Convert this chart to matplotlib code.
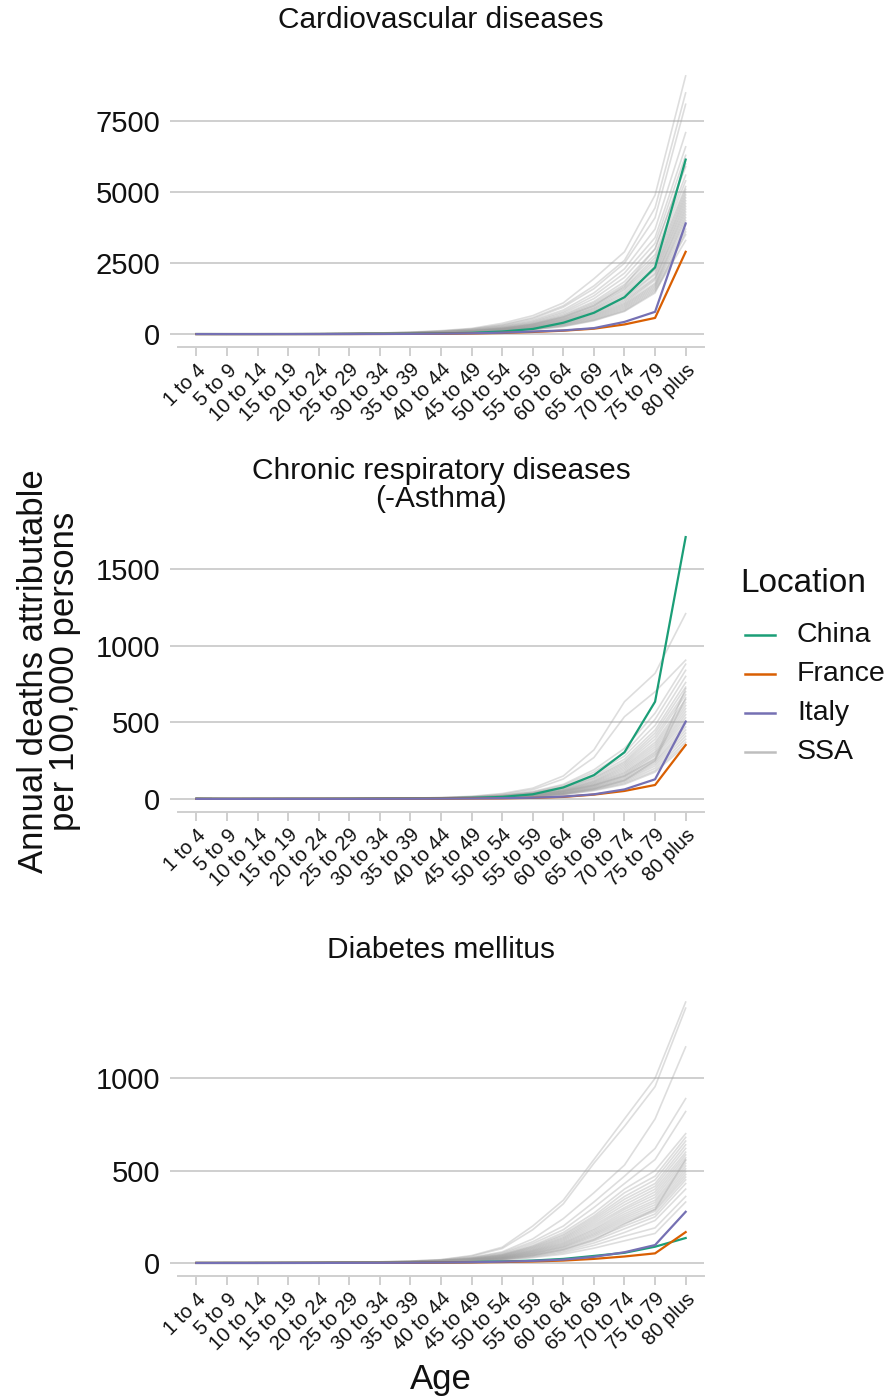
import matplotlib
matplotlib.use("Agg")
import matplotlib.pyplot as plt
from matplotlib.lines import Line2D
import numpy as np

plt.rcParams['font.family'] = ['Liberation Sans', 'DejaVu Sans']

ages = ["1 to 4", "5 to 9", "10 to 14", "15 to 19", "20 to 24", "25 to 29", "30 to 34",
        "35 to 39", "40 to 44", "45 to 49", "50 to 54", "55 to 59", "60 to 64",
        "65 to 69", "70 to 74", "75 to 79", "80 plus"]

titles = ["Cardiovascular diseases", "Chronic respiratory diseases\n(-Asthma)", "Diabetes mellitus"]
yticks_list = [[0, 2500, 5000, 7500], [0, 500, 1000, 1500], [0, 500, 1000]]

# ---- Cardiovascular diseases ----
cvd_china = [2, 1, 1, 2, 3, 5, 9, 15, 25, 45, 90, 180, 400, 750, 1300, 2350, 6150]
cvd_france = [0.5, 0.3, 0.4, 1, 1.5, 2.5, 4, 7, 12, 22, 40, 75, 120, 190, 340, 570, 2900]
cvd_italy = [0.5, 0.3, 0.5, 1, 2, 3, 5, 9, 16, 28, 50, 90, 130, 210, 430, 785, 3900]
cvd_ssa = [
    [6, 3, 5, 9, 15, 24, 40, 70, 120, 200, 380, 650, 1100, 1950, 2900, 4900, 9100],
    [5, 3, 4, 8, 13, 22, 36, 62, 105, 180, 330, 580, 1000, 1700, 2600, 4450, 8500],
    [5, 3, 4, 8, 12, 20, 34, 58, 100, 170, 310, 540, 950, 1600, 2500, 4100, 8100],
    [4, 2, 4, 7, 11, 19, 31, 52, 90, 150, 280, 490, 850, 1450, 2300, 3700, 7100],
    [4, 2, 3, 7, 10, 17, 28, 48, 82, 140, 260, 450, 790, 1350, 2150, 3400, 6600],
    [4, 2, 3, 6, 10, 16, 27, 45, 78, 130, 240, 420, 740, 1250, 2000, 3200, 6300],
    [3, 2, 3, 6, 9, 15, 25, 42, 72, 120, 225, 390, 690, 1150, 1850, 3000, 5900],
    [3, 2, 3, 6, 9, 14, 24, 40, 68, 115, 210, 370, 650, 1100, 1750, 2800, 5600],
    [3, 2, 3, 5, 8, 14, 23, 38, 65, 110, 200, 350, 620, 1050, 1650, 2700, 5400],
    [3, 2, 3, 5, 8, 13, 22, 36, 62, 105, 190, 335, 590, 1000, 1600, 2600, 5200],
    [3, 2, 3, 5, 8, 13, 21, 35, 60, 100, 185, 320, 560, 950, 1550, 2500, 5100],
    [3, 2, 3, 5, 7, 12, 20, 34, 58, 96, 175, 305, 540, 910, 1480, 2400, 5000],
    [3, 2, 2, 5, 7, 12, 19, 32, 55, 92, 168, 295, 520, 880, 1420, 2300, 4900],
    [3, 2, 2, 5, 7, 11, 18, 31, 52, 88, 160, 280, 500, 840, 1360, 2250, 4800],
    [3, 1, 2, 4, 7, 11, 18, 30, 50, 85, 155, 270, 480, 810, 1300, 2150, 4700],
    [2, 1, 2, 4, 6, 10, 17, 28, 48, 82, 148, 260, 460, 780, 1250, 2100, 4600],
    [2, 1, 2, 4, 6, 10, 16, 27, 46, 78, 142, 250, 440, 750, 1200, 2000, 4500],
    [2, 1, 2, 4, 6, 10, 16, 26, 44, 75, 136, 240, 420, 720, 1150, 1950, 4400],
    [2, 1, 2, 4, 6, 9, 15, 25, 42, 72, 130, 230, 400, 690, 1100, 1900, 4300],
    [2, 1, 2, 4, 5, 9, 14, 24, 40, 68, 124, 220, 385, 660, 1060, 1800, 4200],
    [2, 1, 2, 3, 5, 8, 14, 23, 38, 65, 118, 210, 370, 630, 1020, 1750, 4100],
    [2, 1, 2, 3, 5, 8, 13, 22, 36, 62, 112, 200, 350, 600, 980, 1700, 4000],
    [2, 1, 2, 3, 5, 8, 13, 21, 35, 60, 108, 190, 335, 570, 940, 1650, 3850],
    [2, 1, 1, 3, 5, 7, 12, 20, 33, 57, 102, 180, 320, 540, 900, 1600, 3700],
    [2, 1, 1, 3, 4, 7, 11, 19, 31, 54, 96, 170, 300, 510, 860, 1550, 3500],
    [2, 1, 1, 3, 4, 7, 11, 18, 30, 50, 90, 160, 280, 490, 820, 1500, 3300],
    [2, 1, 1, 3, 4, 6, 10, 17, 28, 47, 85, 150, 265, 470, 800, 1450, 3600],
    [3, 2, 3, 5, 8, 13, 22, 36, 62, 105, 190, 340, 600, 1000, 1700, 3000, 6000],
]

# ---- Chronic respiratory diseases ----
crd_china = [1, 0.5, 0.5, 0.5, 0.5, 1, 1.5, 2.5, 4, 7, 13, 30, 75, 155, 305, 635, 1710]
crd_france = [0.3, 0.2, 0.2, 0.3, 0.4, 0.5, 0.8, 1.2, 2, 3, 4, 7, 13, 28, 52, 91, 352]
crd_italy = [0.3, 0.2, 0.2, 0.3, 0.4, 0.5, 0.8, 1.2, 2, 3, 5, 8, 15, 30, 62, 128, 505]
crd_ssa = [
    [2, 1, 1, 1, 2, 2, 3, 5, 9, 17, 35, 70, 150, 320, 635, 820, 1210],
    [2, 1, 1, 1, 1, 2, 3, 5, 8, 15, 30, 60, 130, 270, 537, 700, 906],
    [1, 1, 1, 1, 1, 2, 3, 4, 7, 13, 25, 48, 95, 190, 330, 560, 880],
    [1, 1, 1, 1, 1, 2, 3, 4, 7, 12, 23, 44, 88, 175, 300, 520, 840],
    [1, 1, 1, 1, 1, 2, 2, 4, 6, 11, 21, 40, 80, 160, 280, 480, 800],
    [1, 1, 1, 1, 1, 1, 2, 3, 6, 10, 20, 38, 75, 150, 260, 450, 760],
    [1, 1, 1, 1, 1, 1, 2, 3, 6, 10, 19, 36, 72, 140, 245, 430, 730],
    [1, 1, 1, 1, 1, 1, 2, 3, 5, 9, 18, 34, 68, 135, 235, 410, 700],
    [1, 1, 1, 1, 1, 1, 2, 3, 5, 9, 17, 32, 64, 128, 225, 390, 680],
    [1, 1, 1, 1, 1, 1, 2, 3, 5, 9, 16, 30, 60, 120, 215, 370, 650],
    [1, 1, 1, 1, 1, 1, 2, 3, 5, 8, 15, 29, 57, 115, 205, 355, 630],
    [1, 1, 1, 1, 1, 1, 2, 3, 5, 8, 15, 28, 55, 110, 195, 340, 610],
    [1, 1, 1, 1, 1, 1, 2, 3, 4, 8, 14, 27, 52, 105, 185, 325, 590],
    [1, 1, 1, 1, 1, 1, 2, 3, 4, 7, 13, 25, 50, 100, 175, 310, 570],
    [1, 0, 1, 1, 1, 1, 2, 3, 4, 7, 13, 24, 48, 95, 168, 300, 550],
    [1, 0, 1, 1, 1, 1, 2, 2, 4, 7, 12, 23, 45, 90, 160, 290, 530],
    [1, 0, 1, 1, 1, 1, 1, 2, 4, 6, 12, 22, 43, 86, 152, 280, 510],
    [1, 0, 1, 1, 1, 1, 1, 2, 4, 6, 11, 21, 41, 82, 145, 265, 490],
    [1, 0, 1, 1, 1, 1, 1, 2, 3, 6, 11, 20, 39, 78, 138, 250, 470],
    [1, 0, 1, 1, 1, 1, 1, 2, 3, 6, 10, 19, 37, 74, 130, 240, 450],
    [1, 0, 0, 1, 1, 1, 1, 2, 3, 5, 10, 18, 35, 70, 124, 228, 430],
    [1, 0, 0, 1, 1, 1, 1, 2, 3, 5, 9, 17, 33, 66, 118, 215, 410],
    [1, 0, 0, 1, 1, 1, 1, 2, 3, 5, 9, 16, 31, 62, 110, 200, 390],
    [1, 0, 0, 0, 1, 1, 1, 2, 3, 5, 8, 15, 29, 58, 102, 185, 370],
    [1, 0, 0, 0, 1, 1, 1, 2, 3, 4, 8, 14, 27, 54, 95, 175, 350],
    [1, 0, 0, 1, 1, 1, 1, 2, 3, 5, 9, 17, 33, 65, 120, 250, 660],
    [1, 0, 0, 1, 1, 1, 2, 3, 4, 7, 14, 27, 50, 90, 150, 260, 720],
]

# ---- Diabetes mellitus ----
dm_china = [0.1, 0.1, 0.1, 0.2, 0.3, 0.5, 0.8, 1.5, 3, 5, 8, 13, 22, 38, 55, 88, 135]
dm_france = [0.1, 0.1, 0.1, 0.2, 0.3, 0.4, 0.6, 1, 2, 3, 5, 8, 13, 22, 35, 52, 167]
dm_italy = [0.1, 0.1, 0.1, 0.2, 0.3, 0.5, 0.8, 1.5, 2.5, 4, 7, 11, 18, 33, 58, 97, 277]
dm_ssa = [
    [1, 1, 1, 2, 3, 4, 6, 10, 18, 40, 85, 200, 340, 560, 780, 1000, 1413],
    [1, 1, 1, 2, 3, 4, 6, 10, 17, 36, 78, 180, 320, 540, 740, 955, 1380],
    [1, 1, 1, 1, 2, 3, 5, 8, 15, 30, 60, 130, 240, 380, 530, 780, 1170],
    [1, 1, 1, 1, 2, 3, 5, 8, 14, 28, 55, 115, 200, 330, 470, 620, 890],
    [1, 1, 1, 1, 2, 3, 5, 7, 13, 26, 50, 105, 180, 300, 430, 560, 820],
    [1, 1, 1, 1, 2, 3, 4, 7, 12, 24, 46, 95, 165, 270, 400, 500, 700],
    [1, 1, 1, 1, 2, 3, 4, 7, 12, 23, 44, 90, 155, 255, 380, 470, 680],
    [1, 1, 1, 1, 2, 2, 4, 6, 11, 22, 42, 86, 148, 245, 360, 450, 660],
    [0, 1, 1, 1, 2, 2, 4, 6, 11, 21, 40, 82, 140, 235, 345, 430, 640],
    [0, 1, 1, 1, 1, 2, 4, 6, 10, 20, 38, 78, 134, 225, 330, 415, 620],
    [0, 1, 1, 1, 1, 2, 3, 6, 10, 19, 36, 74, 128, 215, 315, 400, 600],
    [0, 1, 1, 1, 1, 2, 3, 5, 9, 18, 35, 70, 122, 205, 300, 385, 585],
    [0, 1, 1, 1, 1, 2, 3, 5, 9, 17, 33, 67, 116, 195, 290, 370, 570],
    [0, 0, 1, 1, 1, 2, 3, 5, 9, 16, 31, 64, 110, 185, 278, 355, 555],
    [0, 0, 1, 1, 1, 2, 3, 5, 8, 16, 30, 61, 105, 178, 266, 340, 540],
    [0, 0, 1, 1, 1, 2, 3, 5, 8, 15, 29, 58, 100, 170, 255, 328, 525],
    [0, 0, 1, 1, 1, 2, 3, 4, 8, 14, 27, 55, 95, 162, 245, 315, 510],
    [0, 0, 1, 1, 1, 2, 3, 4, 7, 14, 26, 52, 90, 155, 235, 302, 495],
    [0, 0, 1, 1, 1, 1, 2, 4, 7, 13, 25, 50, 86, 148, 225, 290, 480],
    [0, 0, 0, 1, 1, 1, 2, 4, 7, 12, 24, 47, 82, 140, 215, 280, 465],
    [0, 0, 0, 1, 1, 1, 2, 4, 6, 12, 22, 44, 76, 130, 200, 265, 450],
    [0, 0, 0, 1, 1, 1, 2, 3, 6, 11, 21, 41, 70, 120, 185, 250, 430],
    [0, 0, 0, 1, 1, 1, 2, 3, 5, 10, 19, 37, 63, 108, 165, 230, 400],
    [0, 0, 0, 0, 1, 1, 2, 3, 5, 9, 17, 33, 56, 95, 145, 190, 360],
    [0, 0, 0, 0, 1, 1, 1, 3, 4, 8, 15, 29, 48, 80, 120, 160, 330],
    [0, 0, 0, 1, 1, 1, 2, 4, 6, 11, 20, 40, 72, 125, 210, 290, 560],
]

locations = ["China", "France", "Italy", "SSA"]
loc_colors = {"China": "#1B9E77", "France": "#D95F02", "Italy": "#7570B3", "SSA": "#BEBEBE"}

panels = [
    (cvd_ssa, cvd_china, cvd_france, cvd_italy),
    (crd_ssa, crd_china, crd_france, crd_italy),
    (dm_ssa, dm_china, dm_france, dm_italy),
]

W, H = 891, 1399
fig = plt.figure(figsize=(W / 100, H / 100), dpi=100)

panel_px = [(63, 347), (524, 812), (989, 1276)]
left_px, right_px = 178, 704
title_y_px = [20, 485, 950]
grid_col = "#CFCFCF"
txt_col = "#111111"
x = np.arange(len(ages))

for i, (ssa, china, france, italy) in enumerate(panels):
    top, bot = panel_px[i]
    ax = fig.add_axes([left_px / W, 1 - bot / H, (right_px - left_px) / W, (bot - top) / H])
    for row in ssa:
        ax.plot(x, row, color="#A0A0A0", alpha=0.35, lw=1.2, zorder=2, solid_joinstyle="round")
    ax.plot(x, china, color=loc_colors["China"], lw=1.6, zorder=3)
    ax.plot(x, france, color=loc_colors["France"], lw=1.6, zorder=3)
    ax.plot(x, italy, color=loc_colors["Italy"], lw=1.6, zorder=3)

    ymax = max(max(max(r) for r in ssa), max(china), max(france), max(italy))
    ax.set_ylim(-0.05 * ymax, 1.05 * ymax)
    ax.set_xlim(-0.6, len(ages) - 1 + 0.6)
    ax.set_yticks(yticks_list[i])
    ax.set_yticklabels([str(v) for v in yticks_list[i]])
    ax.set_xticks(x)
    ax.set_xticklabels(ages, rotation=45, ha="right", va="top", rotation_mode="anchor")
    ax.grid(axis="y", color=grid_col, lw=1.4, zorder=0)
    ax.grid(axis="x", visible=False)
    ax.set_axisbelow(True)
    for s in ["top", "right", "left"]:
        ax.spines[s].set_visible(False)
    ax.spines["bottom"].set_color(grid_col)
    ax.spines["bottom"].set_linewidth(1.4)
    ax.tick_params(axis="y", length=5.8, width=1.4, color=grid_col, pad=7, labelsize=21,
                   labelcolor=txt_col)
    ax.tick_params(axis="x", length=6.5, width=1.4, color=grid_col, pad=3, labelsize=14.5,
                   labelcolor=txt_col)
    fig.text((left_px + right_px) / 2 / W, 1 - title_y_px[i] / H, titles[i],
             ha="center", va="center", fontsize=21.5, color=txt_col, linespacing=1.0)

# axis labels
fig.text(49 / W, 1 - 671 / H, "Annual deaths attributable\nper 100,000 persons", rotation=90,
         ha="center", va="center", fontsize=25, color=txt_col, linespacing=0.95)
fig.text((left_px + right_px) / 2 / W, 1 - 1380 / H, "Age", ha="center", va="center",
         fontsize=25, color=txt_col)

# legend
fig.text(740 / W, 1 - 583 / H, "Location", ha="left", va="center", fontsize=24, color=txt_col)
for j, loc in enumerate(locations):
    yy = 1 - (635 + 39 * j) / H
    fig.add_artist(Line2D([745 / W, 775 / W], [yy, yy], color=loc_colors[loc], lw=1.8,
                          transform=fig.transFigure))
    fig.text(797 / W, yy, loc, ha="left", va="center", fontsize=20.5, color=txt_col)

fig.savefig("out.png", dpi=100)
